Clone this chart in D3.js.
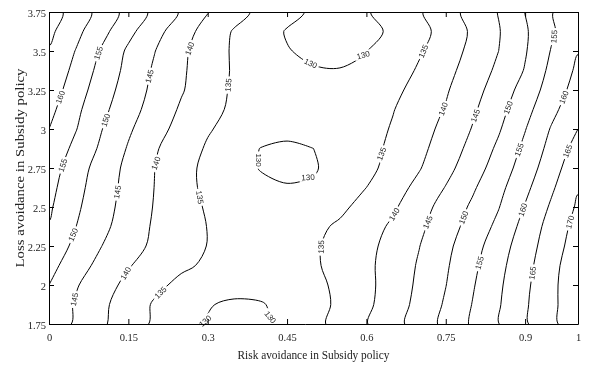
<!DOCTYPE html>
<html>
<head>
<meta charset="utf-8">
<script src="https://cdn.jsdelivr.net/npm/d3@7"></script>
<style>
  body { margin: 0; background: #fff; }
  svg { display: block; }
  .tick text { font-family: "Liberation Serif", "Times New Roman", serif; font-size: 10.5px; fill: #222; }
  .clabel { font-family: "Liberation Sans", Arial, sans-serif; font-size: 8px; fill: #222; }
  .labels { opacity: 0.99; will-change: transform; }
  .title { font-family: "Liberation Serif", "Times New Roman", serif; font-size: 12.5px; fill: #222; }
</style>
</head>
<body>
<div id="chart"></div>
<script>
// grid of the surface: columns = risk avoidance, rows = loss avoidance (top row first)
var riskGrid = [0, 0.05, 0.1, 0.15, 0.2, 0.25, 0.3, 0.35, 0.4, 0.45, 0.5, 0.55, 0.6, 0.65, 0.7, 0.75, 0.8, 0.85, 0.9, 0.95, 1];
var lossGrid = [3.75, 3.625, 3.5, 3.375, 3.25, 3.125, 3, 2.875, 2.75, 2.625, 2.5, 2.375, 2.25, 2.125, 2, 1.875, 1.75];

var zRows = [
  [167.4,162.9,158.2,153.3,148.8,144.5,140.2,136.8,133.8,131.3,129.3,128.8,129.6,132.0,134.5,138.0,141.6,145.2,150.1,154.7,159.0],
  [166.1,161.4,156.5,151.3,146.7,142.2,138.1,134.6,132.1,129.7,128.8,128.3,128.6,130.8,133.5,136.8,140.7,144.7,149.4,154.3,158.9],
  [164.6,159.9,154.4,149.2,145.1,141.0,137.5,134.4,132.3,130.2,129.2,128.7,129.9,132.2,134.5,137.7,141.2,145.0,149.6,155.3,159.8],
  [163.9,158.7,153.3,148.6,144.3,140.7,137.4,134.5,132.6,131.0,130.3,130.2,130.8,132.5,135.6,138.6,142.1,146.0,150.3,156.3,160.9],
  [162.8,157.4,152.3,147.8,143.8,140.4,137.2,134.3,132.8,131.6,131.1,131.1,131.8,133.8,136.7,139.5,143.2,147.2,151.9,157.3,162.0],
  [161.4,156.2,151.2,146.9,143.0,139.4,136.5,134.1,133.0,132.2,131.8,131.8,132.6,134.8,137.5,140.3,144.2,148.3,153.4,158.7,163.5],
  [160.0,155.3,150.1,145.7,141.8,138.4,135.4,133.5,132.1,131.3,131.2,131.8,133.0,135.4,138.1,141.3,145.2,149.5,154.8,160.4,165.0],
  [158.7,153.8,149.1,144.6,140.5,137.3,134.5,132.2,129.9,129.2,130.0,131.8,133.7,135.8,138.8,142.3,146.4,150.9,156.1,161.6,166.9],
  [157.4,152.4,147.8,143.8,140.0,136.6,133.9,131.8,129.8,128.9,129.6,131.7,133.8,136.5,139.7,143.5,147.7,152.2,157.3,162.9,168.4],
  [156.5,151.6,147.3,143.5,139.9,136.6,134.0,132.2,130.9,130.3,130.6,132.4,135.0,138.0,141.3,145.2,149.3,153.6,158.8,164.3,169.6],
  [155.7,150.9,146.8,143.2,139.7,137.0,134.5,133.0,132.0,131.6,132.2,134.0,136.7,139.3,143.0,146.9,150.7,154.8,160.3,165.7,170.7],
  [154.7,150.1,146.2,142.6,139.4,137.1,134.9,134.0,133.4,133.3,133.9,135.7,138.1,140.7,144.0,147.8,151.8,156.2,161.7,166.9,171.7],
  [153.4,148.9,145.0,141.8,139.1,136.8,134.9,134.2,133.9,133.9,134.4,136.5,138.8,141.5,144.9,148.8,153.0,157.7,162.7,167.6,172.5],
  [151.7,147.2,143.5,140.3,138.0,135.7,134.4,133.8,133.5,133.6,134.4,136.5,139.0,142.0,145.5,149.4,153.8,158.6,163.4,168.4,173.4],
  [150.0,145.5,141.9,138.8,136.0,134.0,132.7,132.0,132.0,132.6,133.8,136.0,138.8,142.2,145.9,149.9,154.5,159.2,164.0,168.8,173.7],
  [148.6,144.6,141.0,137.5,134.5,132.4,130.3,129.2,129.6,131.6,133.5,135.8,139.0,142.6,146.4,150.6,155.1,159.6,164.4,168.9,173.4],
  [148.2,144.4,140.7,137.3,134.3,131.9,129.7,128.7,128.9,131.3,133.7,136.5,139.8,143.3,147.1,151.3,155.6,159.9,164.4,168.9,173.3]
];

var levels = [130, 135, 140, 145, 150, 155, 160, 165, 170];
var riskTicks = [0, 0.15, 0.3, 0.45, 0.6, 0.75, 0.9, 1];
var lossTicks = [1.75, 2, 2.25, 2.5, 2.75, 3, 3.25, 3.5, 3.75];

// where the inline labels sit: [level, risk, loss]
var labelSpots = [
  [160, 0.025, 3.2],
  [155, 0.093, 3.487], [155, 0.025, 2.769],
  [150, 0.106, 3.058], [150, 0.047, 2.321],
  [145, 0.187, 3.34], [145, 0.129, 2.596], [145, 0.051, 1.904],
  [140, 0.263, 3.519], [140, 0.2, 2.782], [140, 0.144, 2.077],
  [135, 0.337, 3.282], [135, 0.28, 2.558], [135, 0.206, 1.968],
  [130, 0.49, 3.397], [130, 0.594, 3.474],
  [130, 0.395, 2.801], [130, 0.49, 2.686],
  [130, 0.295, 1.769], [130, 0.424, 1.801],
  [135, 0.715, 3.487], [135, 0.638, 2.833], [135, 0.518, 2.244],
  [140, 0.74, 3.135], [140, 0.655, 2.449],
  [145, 0.802, 3.09], [145, 0.721, 2.397],
  [150, 0.865, 3.141], [150, 0.787, 2.429],
  [155, 0.957, 3.59], [155, 0.891, 2.865], [155, 0.815, 2.141],
  [160, 0.972, 3.205], [160, 0.897, 2.481],
  [165, 0.98, 2.859], [165, 0.914, 2.077],
  [170, 0.984, 2.404]
];

var W = 599, H = 371;
var plotL = 49, plotR = 578, plotT = 12, plotB = 324;

var x = d3.scaleLinear().domain([0, 1]).range([plotL, plotR]);
var y = d3.scaleLinear().domain([1.75, 3.75]).range([plotB, plotT]);

var nx = riskGrid.length, ny = lossGrid.length;

// d3.contours puts sample i at grid coordinate i + 0.5
function gridToPx(c) {
  var f = c - 0.5;
  var i = Math.max(0, Math.min(nx - 2, Math.floor(f)));
  return x(riskGrid[i] + (f - i) * (riskGrid[i + 1] - riskGrid[i]));
}
function gridToPy(c) {
  var f = c - 0.5;
  var j = Math.max(0, Math.min(ny - 2, Math.floor(f)));
  return y(lossGrid[j] + (f - j) * (lossGrid[j + 1] - lossGrid[j]));
}

var flat = [];
zRows.forEach(function(r) { flat = flat.concat(r); });

var contours = d3.contours().size([nx, ny]).thresholds(levels)(flat);

var svg = d3.select("#chart").append("svg")
    .attr("width", W)
    .attr("height", H);

var defs = svg.append("defs");
defs.append("clipPath").attr("id", "plotClip")
  .append("rect")
    .attr("x", plotL).attr("y", plotT)
    .attr("width", plotR - plotL).attr("height", plotB - plotT);

var mask = defs.append("mask").attr("id", "labelGaps")
    .attr("maskUnits", "userSpaceOnUse")
    .attr("x", 0).attr("y", 0).attr("width", W).attr("height", H);
mask.append("rect").attr("width", W).attr("height", H).attr("fill", "white");

var lineGen = d3.line().curve(d3.curveCatmullRomClosed.alpha(0.5));

var lineG = svg.append("g").attr("clip-path", "url(#plotClip)")
  .append("g").attr("mask", "url(#labelGaps)");

var ringsByLevel = {};
contours.forEach(function(c) {
  ringsByLevel[c.value] = [];
  c.coordinates.forEach(function(poly) {
    poly.forEach(function(ring) {
      var pts = ring.map(function(p) { return [gridToPx(p[0]), gridToPy(p[1])]; });
      ringsByLevel[c.value].push(pts);
      lineG.append("path")
        .attr("d", lineGen(pts.slice(0, -1)))
        .attr("fill", "none")
        .attr("stroke", "#000")
        .attr("stroke-width", 1);
    });
  });
});

// inline labels, snapped to the nearest point of their contour
var labelG = svg.append("g").attr("class", "labels");
labelSpots.forEach(function(s) {
  var px = x(s[1]), py = y(s[2]);
  var best = null;
  (ringsByLevel[s[0]] || []).forEach(function(pts) {
    for (var i = 0; i < pts.length - 1; i++) {
      var a = pts[i], b = pts[i + 1];
      var dx = b[0] - a[0], dy = b[1] - a[1], L2 = dx * dx + dy * dy;
      if (L2 === 0) continue;
      var t = Math.max(0, Math.min(1, ((px - a[0]) * dx + (py - a[1]) * dy) / L2));
      var qx = a[0] + t * dx, qy = a[1] + t * dy;
      if (qx < plotL || qx > plotR || qy < plotT || qy > plotB) continue;
      var d = (qx - px) * (qx - px) + (qy - py) * (qy - py);
      if (!best || d < best.d) best = {d: d, qx: qx, qy: qy, pts: pts, i: i};
    }
  });
  if (!best) return;
  var n = best.pts.length - 1;
  var p0 = best.pts[(best.i - 1 + n) % n], p1 = best.pts[(best.i + 2) % n];
  var ang = Math.atan2(p1[1] - p0[1], p1[0] - p0[0]) * 180 / Math.PI;
  if (ang > 90) ang -= 180;
  if (ang <= -90) ang += 180;
  var tr = "translate(" + best.qx + "," + best.qy + ") rotate(" + ang + ")";
  var txt = labelG.append("text")
      .attr("class", "clabel")
      .attr("text-anchor", "middle")
      .attr("dy", "0.35em")
      .attr("transform", tr)
      .text(s[0]);
  var w = txt.node().getComputedTextLength();
  mask.append("rect")
      .attr("x", -w / 2 - 2).attr("y", -4)
      .attr("width", w + 4).attr("height", 8)
      .attr("fill", "black")
      .attr("transform", tr);
});

var fmt = function(d) { return String(d); };

svg.append("g")
    .attr("transform", "translate(0," + plotB + ")")
    .call(d3.axisBottom(x).tickValues(riskTicks).tickFormat(fmt)
      .tickSizeInner(-5).tickSizeOuter(0).tickPadding(10));

svg.append("g")
    .attr("transform", "translate(0," + plotT + ")")
    .call(d3.axisTop(x).tickValues(riskTicks).tickFormat("")
      .tickSizeInner(-5).tickSizeOuter(0));

svg.append("g")
    .attr("transform", "translate(" + plotL + ",0)")
    .call(d3.axisLeft(y).tickValues(lossTicks).tickFormat(fmt)
      .tickSizeInner(-5).tickSizeOuter(0).tickPadding(3))
    .selectAll("text").attr("dy", "0.42em");

svg.append("g")
    .attr("transform", "translate(" + plotR + ",0)")
    .call(d3.axisRight(y).tickValues(lossTicks).tickFormat("")
      .tickSizeInner(-5).tickSizeOuter(0));

svg.append("text")
    .attr("class", "title")
    .attr("x", (plotL + plotR) / 2)
    .attr("y", 358.5)
    .attr("text-anchor", "middle")
    .attr("textLength", 152)
    .attr("lengthAdjust", "spacingAndGlyphs")
    .text("Risk avoidance in Subsidy policy");

svg.append("text")
    .attr("class", "title")
    .attr("transform", "translate(24," + (plotT + plotB) / 2 + ") rotate(-90)")
    .attr("text-anchor", "middle")
    .attr("textLength", 199)
    .attr("lengthAdjust", "spacingAndGlyphs")
    .text("Loss avoidance in Subsidy policy");
</script>
</body>
</html>
